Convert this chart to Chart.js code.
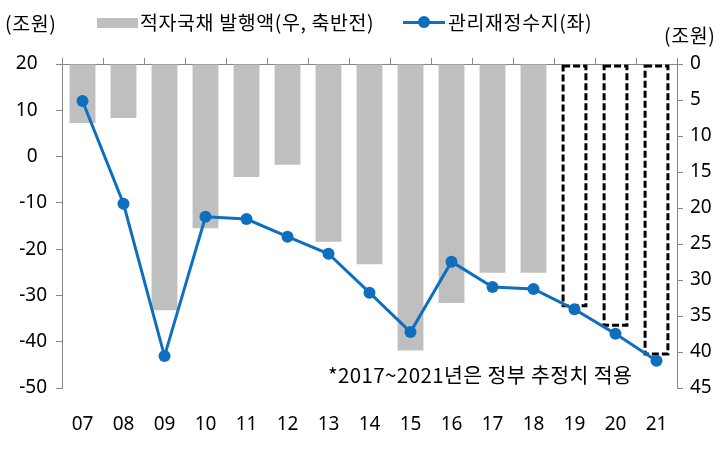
<!DOCTYPE html>
<html>
<head>
<meta charset="utf-8">
<script src="https://cdn.jsdelivr.net/npm/chart.js@4"></script>
<style>
  html, body { margin: 0; padding: 0; background: #fff; }
  #wrap { position: relative; width: 720px; height: 454px; }
  #chart { position: absolute; left: 0; top: 0; }
  .txt { position: absolute; font-family: "Noto Sans CJK KR", sans-serif; color: #000; line-height: 1; white-space: nowrap; font-size: 19.5px; letter-spacing: 0.6px; }
</style>
</head>
<body>
<div id="wrap">
  <canvas id="chart" width="720" height="454"></canvas>
  <div class="txt" style="left:5px; top:13px;">(조원)</div>
  <div class="txt" style="left:664px; top:25px;">(조원)</div>
  <div style="position:absolute; left:97px; top:18px; width:41px; height:10px; background:#bfbfbf;"></div>
  <div class="txt" style="left:140px; top:12px;">적자국채 발행액(우, 축반전)</div>
  <div style="position:absolute; left:403px; top:21px; width:42px; height:3px; background:#0f6fbf;"></div>
  <div style="position:absolute; left:418px; top:16px; width:12px; height:12px; border-radius:50%; background:#0f6fbf;"></div>
  <div class="txt" style="left:448px; top:12px;">관리재정수지(좌)</div>
  <div class="txt" style="left:328px; top:364px; font-size:20.5px; letter-spacing:0.4px;">*2017~2021년은 정부 추정치 적용</div>
</div>
<script>
// x axis categories (years)
const categories = ["07", "08", "09", "10", "11", "12", "13", "14", "15", "16", "17", "18", "19", "20", "21"];

// 적자국채 발행액 (right axis, reversed), 조원
const deficitBonds = [8.2, 7.5, 34.2, 22.8, 15.7, 14.0, 24.7, 27.8, 39.8, 33.2, 29.0, 29.0, 33.8, 36.5, 40.5];

// 관리재정수지 (left axis), 조원
const fiscalBalance = [12.0, -10.2, -43.1, -13.0, -13.5, -17.3, -21.0, -29.4, -37.9, -22.7, -28.2, -28.6, -33.0, -38.3, -44.1];

// years drawn as dashed (government estimate)
const estimated = [false, false, false, false, false, false, false, false, false, false, false, false, true, true, true];

const leftTicks = { min: -50, max: 20, step: 10 };
const rightTicks = { min: 0, max: 45, step: 5 };

const GRAY = "#bfbfbf";
const BLUE = "#0f6fbf";
const AXIS = "#868686";
const tickFont = { family: "'Noto Sans', sans-serif", size: 19 };

// bars have no dashed border option, so stroke it over the bar element
const dashedBars = {
  id: "dashedBars",
  afterDatasetDraw(chart, args) {
    if (args.index !== 0) return;
    const ctx = chart.ctx;
    ctx.save();
    ctx.setLineDash([7, 3]);
    ctx.lineWidth = 3;
    ctx.strokeStyle = "#000";
    args.meta.data.forEach((bar, i) => {
      if (!estimated[i]) return;
      const p = bar.getProps(["x", "y", "base", "width"], true);
      const top = Math.min(p.y, p.base);
      const h = Math.abs(p.base - p.y);
      ctx.strokeRect(p.x - p.width / 2 + 1.5, top + 1.5, p.width - 3, h - 3);
    });
    ctx.restore();
  }
};

const ctx = document.getElementById("chart").getContext("2d");

new Chart(ctx, {
  type: "bar",
  data: {
    labels: categories,
    datasets: [
      {
        type: "bar",
        label: "적자국채 발행액(우, 축반전)",
        data: deficitBonds,
        yAxisID: "y1",
        xAxisID: "x",
        backgroundColor: estimated.map(e => (e ? "#ffffff" : GRAY)),
        borderWidth: 0,
        barPercentage: 0.63,
        categoryPercentage: 1,
        order: 2
      },
      {
        type: "line",
        label: "관리재정수지(좌)",
        data: fiscalBalance,
        yAxisID: "y",
        xAxisID: "x",
        borderColor: BLUE,
        backgroundColor: BLUE,
        borderWidth: 3,
        pointRadius: 6,
        pointBackgroundColor: BLUE,
        pointBorderWidth: 0,
        tension: 0,
        order: 1
      }
    ]
  },
  options: {
    responsive: false,
    animation: false,
    layout: { padding: 0 },
    plugins: {
      legend: { display: false },
      tooltip: { enabled: false }
    },
    scales: {
      x: {
        type: "category",
        position: "bottom",
        offset: true,
        grid: { display: false, offset: true },
        border: { display: false },
        ticks: { color: "#000", font: tickFont, padding: 17, maxRotation: 0 },
        afterFit(s) { s.height = 66; }
      },
      xTop: {
        type: "category",
        position: "top",
        labels: categories,
        offset: true,
        grid: { offset: true, drawOnChartArea: false, drawTicks: true, tickLength: 6, color: AXIS },
        border: { display: true, color: AXIS, width: 1 },
        ticks: { display: false },
        afterFit(s) { s.height = 64; }
      },
      y: {
        position: "left",
        min: leftTicks.min,
        max: leftTicks.max,
        ticks: {
          stepSize: leftTicks.step,
          color: "#000",
          font: tickFont,
          padding: 9,
          callback: v => (v >= 0 ? v + "\u2002" : String(v))
        },
        grid: { drawOnChartArea: false, drawTicks: true, tickLength: 6, color: AXIS },
        border: { display: true, color: AXIS },
        afterFit(s) { s.width = 62; }
      },
      y1: {
        position: "right",
        reverse: true,
        min: rightTicks.min,
        max: rightTicks.max,
        ticks: { stepSize: rightTicks.step, color: "#000", font: tickFont, padding: 7 },
        grid: { drawOnChartArea: false, drawTicks: true, tickLength: 6, color: AXIS },
        border: { display: true, color: AXIS },
        afterFit(s) { s.width = 43; }
      }
    }
  },
  plugins: [dashedBars]
});
</script>
</body>
</html>
